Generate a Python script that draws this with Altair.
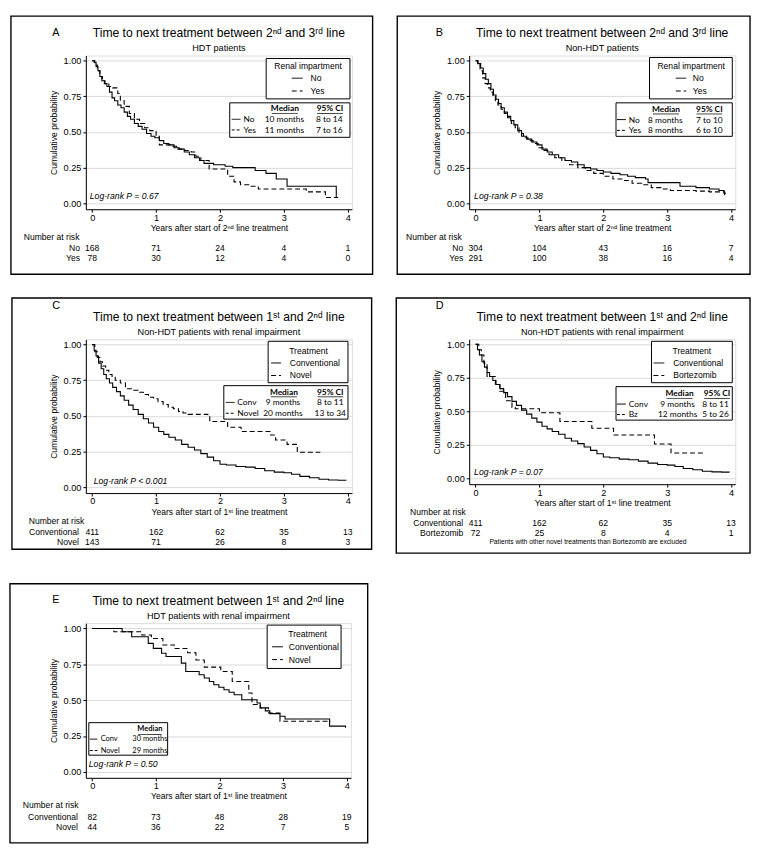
import altair as alt
import pandas as pd

# ---------------- data ----------------
YEARS = [0, 1, 2, 3, 4]

# Panel A: HDT patients, renal impairment No / Yes
A_no_t = [0, 0.03, 0.06, 0.09, 0.12, 0.15, 0.19, 0.23, 0.27, 0.31, 0.35, 0.40, 0.45, 0.50, 0.55, 0.60, 0.66, 0.72, 0.78, 0.85, 0.92, 0.98, 1.05, 1.12, 1.20, 1.28, 1.36, 1.44, 1.52, 1.60, 1.68, 1.75, 1.90, 2.08, 2.20, 2.55, 2.72, 2.88, 3.05, 3.82, 3.82]
A_no_s = [1.0, 0.99, 0.96, 0.93, 0.89, 0.86, 0.84, 0.82, 0.78, 0.74, 0.72, 0.69, 0.67, 0.64, 0.61, 0.59, 0.56, 0.54, 0.52, 0.49, 0.47, 0.46, 0.44, 0.42, 0.41, 0.39, 0.38, 0.36, 0.34, 0.32, 0.30, 0.28, 0.27, 0.26, 0.25, 0.23, 0.21, 0.17, 0.12, 0.12, 0.04]
A_yes_t = [0, 0.04, 0.08, 0.12, 0.16, 0.20, 0.26, 0.32, 0.40, 0.44, 0.50, 0.58, 0.66, 0.74, 0.82, 0.90, 1.00, 1.05, 1.25, 1.32, 1.45, 1.55, 1.62, 1.70, 1.83, 2.12, 2.22, 2.32, 2.45, 2.60, 3.35, 3.65, 3.85]
A_yes_s = [1.0, 0.97, 0.93, 0.89, 0.86, 0.84, 0.82, 0.81, 0.77, 0.72, 0.68, 0.63, 0.59, 0.56, 0.53, 0.51, 0.47, 0.41, 0.40, 0.38, 0.37, 0.36, 0.33, 0.30, 0.24, 0.19, 0.15, 0.13, 0.12, 0.10, 0.08, 0.04, 0.04]
A_risk_no = [168, 71, 24, 4, 1]
A_risk_yes = [78, 30, 12, 4, 0]

# Panel B: Non-HDT patients, renal impairment No / Yes
B_no_t = [0, 0.04, 0.08, 0.12, 0.16, 0.20, 0.24, 0.28, 0.32, 0.36, 0.40, 0.45, 0.50, 0.55, 0.60, 0.66, 0.72, 0.80, 0.88, 0.96, 1.04, 1.12, 1.20, 1.30, 1.40, 1.50, 1.60, 1.70, 1.80, 1.90, 2.00, 2.12, 2.26, 2.38, 2.50, 2.66, 2.70, 3.20, 3.45, 3.66, 3.81, 3.89, 3.92]
B_no_s = [1.0, 0.98, 0.95, 0.91, 0.87, 0.84, 0.80, 0.76, 0.73, 0.70, 0.67, 0.64, 0.61, 0.58, 0.55, 0.51, 0.47, 0.45, 0.43, 0.41, 0.38, 0.36, 0.34, 0.32, 0.30, 0.29, 0.27, 0.25, 0.24, 0.23, 0.22, 0.21, 0.20, 0.19, 0.18, 0.17, 0.145, 0.12, 0.11, 0.10, 0.09, 0.07, 0.07]
B_yes_t = [0, 0.03, 0.07, 0.11, 0.15, 0.19, 0.23, 0.27, 0.31, 0.35, 0.40, 0.45, 0.50, 0.56, 0.62, 0.68, 0.75, 0.82, 0.90, 0.98, 1.06, 1.15, 1.24, 1.35, 1.47, 1.60, 1.72, 1.85, 2.00, 2.15, 2.30, 2.45, 2.60, 2.75, 2.90, 3.05, 3.45, 3.66, 3.90, 3.94]
B_yes_s = [1.0, 0.97, 0.93, 0.88, 0.84, 0.81, 0.78, 0.75, 0.72, 0.69, 0.66, 0.63, 0.60, 0.56, 0.53, 0.49, 0.46, 0.44, 0.42, 0.39, 0.37, 0.34, 0.32, 0.30, 0.27, 0.25, 0.23, 0.21, 0.19, 0.17, 0.16, 0.14, 0.13, 0.11, 0.10, 0.09, 0.085, 0.08, 0.06, 0.06]
B_risk_no = [304, 104, 43, 16, 7]
B_risk_yes = [291, 100, 38, 16, 4]

# Panel C / D: Non-HDT patients with renal impairment
C_conv_t = [0, 0.03, 0.06, 0.10, 0.14, 0.18, 0.22, 0.27, 0.32, 0.38, 0.44, 0.50, 0.57, 0.64, 0.72, 0.80, 0.88, 0.96, 1.04, 1.12, 1.20, 1.30, 1.40, 1.50, 1.60, 1.70, 1.80, 1.90, 2.00, 2.10, 2.25, 2.40, 2.55, 2.70, 2.85, 3.00, 3.12, 3.25, 3.40, 3.55, 3.70, 3.85, 3.97]
C_conv_s = [1.0, 0.96, 0.92, 0.87, 0.83, 0.79, 0.76, 0.73, 0.70, 0.67, 0.64, 0.61, 0.575, 0.545, 0.51, 0.48, 0.45, 0.42, 0.39, 0.37, 0.35, 0.33, 0.30, 0.28, 0.26, 0.235, 0.21, 0.185, 0.16, 0.155, 0.145, 0.14, 0.13, 0.115, 0.105, 0.10, 0.09, 0.075, 0.065, 0.055, 0.05, 0.048, 0.045]
C_nov_t = [0, 0.04, 0.08, 0.12, 0.16, 0.21, 0.26, 0.31, 0.36, 0.44, 0.52, 0.62, 0.72, 0.80, 0.88, 0.96, 1.03, 1.11, 1.19, 1.27, 1.35, 1.42, 1.50, 1.81, 1.84, 2.12, 2.33, 2.79, 2.87, 3.05, 3.21, 3.57]
C_nov_s = [1.0, 0.95, 0.91, 0.88, 0.85, 0.82, 0.79, 0.77, 0.75, 0.73, 0.69, 0.68, 0.665, 0.65, 0.63, 0.62, 0.60, 0.58, 0.56, 0.55, 0.53, 0.52, 0.51, 0.50, 0.46, 0.42, 0.39, 0.365, 0.33, 0.30, 0.245, 0.245]
C_risk_conv = [411, 162, 62, 35, 13]
C_risk_nov = [143, 71, 26, 8, 3]

D_bz_t = [0, 0.05, 0.09, 0.13, 0.18, 0.31, 0.38, 0.47, 0.57, 0.62, 1.00, 1.32, 1.82, 2.16, 2.80, 3.06, 3.58]
D_bz_s = [1.0, 0.96, 0.92, 0.86, 0.76, 0.70, 0.65, 0.58, 0.53, 0.52, 0.49, 0.425, 0.375, 0.325, 0.257, 0.19, 0.19]
D_risk_conv = [411, 162, 62, 35, 13]
D_risk_bz = [72, 25, 8, 4, 1]

# Panel E: HDT patients with renal impairment
E_conv_t = [0, 0.47, 0.62, 0.88, 0.96, 1.09, 1.16, 1.40, 1.47, 1.68, 1.76, 1.84, 1.91, 1.99, 2.07, 2.15, 2.23, 2.35, 2.59, 2.64, 2.72, 2.79, 2.95, 3.03, 3.73, 3.98, 3.98]
E_conv_s = [1.0, 0.977, 0.942, 0.896, 0.861, 0.827, 0.804, 0.758, 0.70, 0.677, 0.654, 0.63, 0.607, 0.59, 0.573, 0.555, 0.538, 0.503, 0.48, 0.446, 0.425, 0.406, 0.388, 0.369, 0.319, 0.319, 0.307]
E_nov_t = [0, 0.34, 0.78, 0.93, 1.11, 1.29, 1.50, 1.63, 1.76, 2.02, 2.20, 2.46, 2.51, 2.64, 2.77, 2.95, 3.75]
E_nov_s = [1.0, 0.977, 0.954, 0.93, 0.885, 0.86, 0.83, 0.78, 0.73, 0.70, 0.63, 0.55, 0.47, 0.446, 0.41, 0.353, 0.353]
E_risk_conv = [82, 73, 48, 28, 19]
E_risk_nov = [44, 36, 22, 7, 5]

# ---------------- styling helpers ----------------
FONT = "Liberation Sans"
TFONT = "Lato"
XDOM = [-0.1, 4.065]
YDOM = [-0.042, 1.037]
SOLID = [1, 0]
DASH = [5, 3]
SMALLDASH = [3, 2]

T_2_3 = "Time to next treatment between 2\u207f\u1d48 and 3\u02b3\u1d48 line"
T_1_2 = "Time to next treatment between 1\u02e2\u1d57 and 2\u207f\u1d48 line"
X_2 = "Years after start of 2\u207f\u1d48 line treatment"
X_1 = "Years after start of 1\u02e2\u1d57 line treatment"


def single():
    return pd.DataFrame({"k": [0]})


def text_at(x, y, s, size=8.7, align="left", font=FONT, weight="normal", style="normal"):
    return alt.Chart(single()).mark_text(
        text=s, align=align, baseline="middle", font=font, fontSize=size,
        fontWeight=weight, fontStyle=style, color="black"
    ).encode(x=alt.value(x), y=alt.value(y))


def hline(x1, x2, y, dash=SOLID, width=1.0):
    return alt.Chart(single()).mark_rule(color="black", strokeWidth=width, strokeDash=dash).encode(
        x=alt.value(x1), x2=alt.value(x2), y=alt.value(y))


def box(x1, y1, x2, y2, opaque=True, width=1.0):
    return alt.Chart(single()).mark_rect(
        fill="white", fillOpacity=1 if opaque else 0, stroke="black", strokeWidth=width
    ).encode(x=alt.value(x1), x2=alt.value(x2), y=alt.value(y1), y2=alt.value(y2))


def xenc(title):
    return alt.X("t:Q", scale=alt.Scale(domain=XDOM, nice=False, zero=False),
                 axis=alt.Axis(values=YEARS, format="d", title=title, grid=False, tickSize=3,
                               labelPadding=1, titlePadding=1, labelFlush=False,
                               labelFontSize=9.3, titleFontSize=8.7, labelFont=FONT, titleFont=FONT,
                               titleFontWeight="normal", domainColor="black", tickColor="black",
                               labelColor="black", titleColor="black"))


def yenc():
    return alt.Y("s:Q", scale=alt.Scale(domain=YDOM, nice=False, zero=False),
                 axis=alt.Axis(values=[0, 0.25, 0.5, 0.75, 1.0], format=".2f",
                               title="Cumulative probability", grid=True, gridColor="#d9d9d9",
                               tickSize=3, labelPadding=2, titlePadding=5, labelFlush=False,
                               labelFontSize=9.3, titleFontSize=8.7, labelFont=FONT, titleFont=FONT,
                               titleFontWeight="normal", domainColor="black", tickColor="black",
                               labelColor="black", titleColor="black"))


def curve(t, s, dash, xtitle):
    df = pd.DataFrame({"t": t, "s": s, "o": list(range(len(t)))})
    return alt.Chart(df).mark_line(interpolate="step-after", color="black", strokeWidth=1.1,
                                   strokeDash=dash).encode(
        x=xenc(xtitle), y=yenc(), order="o:Q")


def panel(p):
    W, H = p["W"], p["H"]
    L = []
    fl, ft, fr, fb = p["frame"]
    L.append(box(fl, ft, fr, fb, opaque=False, width=1.4))
    for (t, s, dash) in p["curves"]:
        L.append(curve(t, s, dash, p["xtitle"]))
    # legend box 1
    b = p["box1"]
    L.append(box(b["x1"], b["y1"], b["x2"], b["y2"]))
    L.append(text_at(b["tx"], b["ty"], b["title"], align="center"))
    for (lab, dash), yy in zip(b["entries"], b["rows"]):
        L.append(hline(b["sx1"], b["sx2"], yy, dash=dash))
        L.append(text_at(b["lx"], yy, lab))
    # median box
    m = p["med"]
    ms = m["size"]
    L.append(box(m["x1"], m["y1"], m["x2"], m["y2"]))
    L.append(text_at(m["hmx"], m["hy"], "Median", size=ms, font=TFONT, weight="bold", align="center"))
    L.append(hline(m["hmx"] - ms * 1.55, m["hmx"] + ms * 1.55, m["hy"] + 5.3, width=0.8))
    if m.get("hcx") is not None:
        L.append(text_at(m["hcx"], m["hy"], "95% CI", size=ms, font=TFONT, weight="bold", align="center"))
        L.append(hline(m["hcx"] - 13, m["hcx"] + 13, m["hy"] + 5.3, width=0.8))
    for row, yy in zip(m["rows"], m["ry"]):
        lab, med, ci, dash = row
        L.append(hline(m["sx1"], m["sx2"], yy, dash=dash))
        L.append(text_at(m["lx"], yy, lab, size=ms, font=TFONT))
        L.append(text_at(m["mx"], yy, med, size=ms, font=TFONT, align="center"))
        if ci:
            L.append(text_at(m["cx"], yy, ci, size=ms, font=TFONT, align="center"))
    # log-rank
    lx, ly, ltxt = p["logrank"]
    L.append(text_at(lx, ly, ltxt, size=8.8, style="italic"))
    # titles
    L.append(text_at(-34, p["letter_y"], p["letter"], size=11))
    L.append(text_at(W / 2, -22.5, p["title"], size=12.3, align="center"))
    L.append(text_at(W / 2, -7.5, p["subtitle"], size=9.3, align="center"))
    # risk table
    L.append(text_at(p["nar_x"], H + 28, "Number at risk"))
    for (lab, vals), yy in zip(p["risk"], [H + 39.5, H + 50]):
        L.append(text_at(p["rl_x"], yy, lab, align="right"))
        rdf = pd.DataFrame({"t": YEARS, "n": [str(v) for v in vals]})
        L.append(alt.Chart(rdf).mark_text(font=FONT, fontSize=8.7, color="black", baseline="middle",
                                          align="center").encode(
            x=xenc(p["xtitle"]), y=alt.value(yy), text="n:N"))
    if p.get("foot"):
        fx, fy, ftxt = p["foot"]
        L.append(text_at(fx, fy, ftxt, size=6.8, align="center"))
    return alt.layer(*L).properties(width=W, height=H)


A = panel(dict(
    W=270, H=156, frame=(-76, -40, 291, 222), letter="A", letter_y=-23,
    title=T_2_3, subtitle="HDT patients", xtitle=X_2,
    curves=[(A_no_t, A_no_s, SOLID), (A_yes_t, A_yes_s, DASH)],
    box1=dict(x1=183, y1=3, x2=268, y2=44, tx=225.5, ty=10.5, title="Renal impartment",
              entries=[("No", SOLID), ("Yes", DASH)], rows=[23, 36], sx1=209, sx2=220, lx=228),
    med=dict(x1=146, y1=48, x2=268, y2=83, hy=53.5, ry=[64.7, 75.5], sx1=148, sx2=157, lx=160,
             hmx=202, hcx=247.7, mx=201.5, cx=247, size=8.5,
             rows=[("No", "10 months", "8 to 14", SOLID), ("Yes", "11 months", "7 to 16", SMALLDASH)]),
    logrank=(4, 143, "Log-rank P = 0.67"),
    nar_x=-63, rl_x=-6,
    risk=[("No", A_risk_no), ("Yes", A_risk_yes)],
))

B = panel(dict(
    W=270, H=156, frame=(-73, -40, 285, 222), letter="B", letter_y=-23,
    title=T_2_3, subtitle="Non-HDT patients", xtitle=X_2,
    curves=[(B_no_t, B_no_s, SOLID), (B_yes_t, B_yes_s, DASH)],
    box1=dict(x1=183, y1=2, x2=267, y2=44, tx=225.3, ty=10.5, title="Renal impartment",
              entries=[("No", SOLID), ("Yes", DASH)], rows=[23, 36], sx1=209.7, sx2=220.3, lx=227),
    med=dict(x1=149, y1=48, x2=267, y2=82, hy=54, ry=[65, 76], sx1=150, sx2=159, lx=162,
             hmx=199.7, hcx=243.7, mx=199, cx=243.7, size=8.5,
             rows=[("No", "8 months", "7 to 10", SOLID), ("Yes", "8 months", "6 to 10", SMALLDASH)]),
    logrank=(5, 143, "Log-rank P = 0.38"),
    nar_x=-64, rl_x=-6,
    risk=[("No", B_risk_no), ("Yes", B_risk_yes)],
))

C = panel(dict(
    W=270, H=156, frame=(-75, -42, 290, 213), letter="C", letter_y=-34,
    title=T_1_2, subtitle="Non-HDT patients with renal impairment", xtitle=X_1,
    curves=[(C_conv_t, C_conv_s, SOLID), (C_nov_t, C_nov_s, DASH)],
    box1=dict(x1=185, y1=2, x2=266, y2=44, tx=226, ty=11.7, title="Treatment",
              entries=[("Conventional", SOLID), ("Novel", DASH)], rows=[24, 36.7], sx1=188, sx2=198, lx=207),
    med=dict(x1=140, y1=47, x2=266, y2=81, hy=53, ry=[64, 75], sx1=142, sx2=151, lx=153.7,
             hmx=201, hcx=248, mx=200, cx=248, size=8.5,
             rows=[("Conv", "9 months", "8 to 11", SOLID), ("Novel", "20 months", "13 to 34", SMALLDASH)]),
    logrank=(8, 144, "Log-rank P < 0.001"),
    nar_x=-58, rl_x=-7,
    risk=[("Conventional", C_risk_conv), ("Novel", C_risk_nov)],
))

D = panel(dict(
    W=270, H=147, frame=(-74, -42, 285, 217), letter="D", letter_y=-34,
    title=T_1_2, subtitle="Non-HDT patients with renal impairment", xtitle=X_1,
    curves=[(C_conv_t, C_conv_s, SOLID), (D_bz_t, D_bz_s, DASH)],
    box1=dict(x1=185, y1=2, x2=267, y2=44, tx=226, ty=11.7, title="Treatment",
              entries=[("Conventional", SOLID), ("Bortezomib", DASH)], rows=[24, 36.7], sx1=187, sx2=198, lx=207),
    med=dict(x1=149, y1=48, x2=267, y2=82, hy=54.7, ry=[65.7, 76.3], sx1=150, sx2=159, lx=162,
             hmx=213.5, hcx=251.5, mx=211.5, cx=250, size=8.5,
             rows=[("Conv", "9 months", "8 to 11", SOLID), ("Bz", "12 months", "5 to 26", SMALLDASH)]),
    logrank=(5, 134.7, "Log-rank P = 0.07"),
    nar_x=-60, rl_x=-6,
    risk=[("Conventional", D_risk_conv), ("Bortezomib", D_risk_bz)],
    foot=(120.5, 147 + 59, "Patients with other novel treatments than Bortezomib are excluded"),
))

E = panel(dict(
    W=269, H=157, frame=(-77, -40, 286, 223), letter="E", letter_y=-23,
    title=T_1_2, subtitle="HDT patients with renal impairment", xtitle=X_1,
    curves=[(E_conv_t, E_conv_s, SOLID), (E_nov_t, E_nov_s, DASH)],
    box1=dict(x1=184, y1=2, x2=259, y2=46, tx=225, ty=11.4, title="Treatment",
              entries=[("Conventional", SOLID), ("Novel", DASH)], rows=[24, 37], sx1=189, sx2=200, lx=206),
    med=dict(x1=3, y1=101, x2=83, y2=134, hy=107.7, ry=[117.7, 129.3], sx1=4, sx2=11.7, lx=15,
             hmx=65, hcx=None, mx=65, cx=None, size=7.6,
             rows=[("Conv", "30 months", None, SOLID), ("Novel", "29 months", None, SMALLDASH)]),
    logrank=(3, 143, "Log-rank P = 0.50"),
    nar_x=-64, rl_x=-8,
    risk=[("Conventional", E_risk_conv), ("Novel", E_risk_nov)],
))

chart = alt.concat(A, B, C, D, E, columns=2, spacing={"row": 132, "column": 119},
                   bounds="flush").properties(
    padding={"left": 0, "top": 0, "right": 0, "bottom": 0}
).configure_view(stroke="#3a3a3a", strokeWidth=1).configure(background="white")

chart.save("out.html", embed_options={"renderer": "svg", "actions": False})
